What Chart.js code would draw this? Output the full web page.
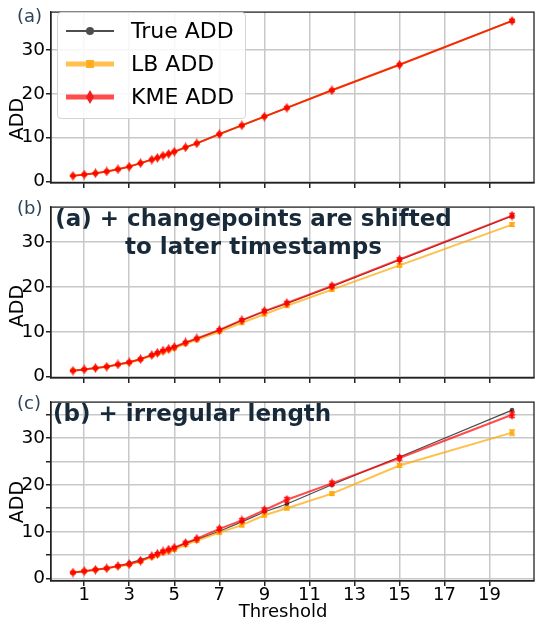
<!DOCTYPE html>
<html><head><meta charset="utf-8">
<script src="https://cdn.jsdelivr.net/npm/chart.js@4.4.0/dist/chart.umd.min.js"></script>
<style>
html,body{margin:0;padding:0;background:#fff;}
#wrap{position:relative;width:540px;height:621px;overflow:hidden;font-family:"DejaVu Sans",sans-serif;}
.pane{position:absolute;left:0;}
canvas{display:block;}
.plab{position:absolute;left:17px;font-size:18px;line-height:18px;color:#2d4458;}
.ann{position:absolute;font-weight:bold;font-size:23px;line-height:27.6px;color:#182a39;white-space:nowrap;}
.ylab{position:absolute;width:60px;height:20px;line-height:20px;text-align:center;font-size:19px;color:#000;transform:rotate(-90deg);}
#xlab{position:absolute;left:233px;width:100px;top:602px;font-size:18px;line-height:18px;text-align:center;color:#000;}
#legend{position:absolute;left:57px;top:12px;width:189px;height:107px;border:1px solid #d4d4d4;border-radius:4px;background:rgba(255,255,255,0.85);box-sizing:border-box;}
.lrow{position:absolute;left:0;height:30px;width:189px;}
.lrow svg{position:absolute;left:7px;top:3px;}
.lrow span{position:absolute;left:73px;top:2px;font-size:22px;line-height:26px;color:#000;white-space:nowrap;}
</style></head>
<body>
<div id="wrap">
  <div class="pane" style="top:0;height:195px"><canvas id="cA" width="540" height="195"></canvas></div>
  <div class="pane" style="top:195px;height:195px"><canvas id="cB" width="540" height="195"></canvas></div>
  <div class="pane" style="top:390px;height:231px"><canvas id="cC" width="540" height="231"></canvas></div>

  <div class="plab" style="top:7px">(a)</div>
  <div class="plab" style="top:199px">(b)</div>
  <div class="plab" style="top:394px">(c)</div>

  <div class="ylab" style="left:-14px;top:109px">ADD</div>
  <div class="ylab" style="left:-14px;top:296px">ADD</div>
  <div class="ylab" style="left:-14px;top:492px">ADD</div>
  <div id="xlab">Threshold</div>

  <div class="ann" style="left:0;width:507px;top:205px;text-align:center">(a) + changepoints are shifted<br>to later timestamps</div>
  <div class="ann" style="left:53px;top:400px">(b) + irregular length</div>

  <div id="legend">
    <div class="lrow" style="top:3px">
      <svg width="52" height="24"><line x1="1" y1="12" x2="49" y2="12" stroke="#4d4d4d" stroke-width="2"/><circle cx="25" cy="12" r="4" fill="#4d4d4d"/></svg>
      <span>True ADD</span></div>
    <div class="lrow" style="top:36px">
      <svg width="52" height="24"><line x1="1" y1="12" x2="49" y2="12" stroke="#ffc04d" stroke-width="5"/><rect x="21" y="8" width="8" height="8" fill="#ffb020"/></svg>
      <span>LB ADD</span></div>
    <div class="lrow" style="top:69px">
      <svg width="52" height="24"><line x1="1" y1="12" x2="49" y2="12" stroke="#ff4d4d" stroke-width="5"/><polygon points="25,5 29,12 25,19 21,12" fill="#f02020"/></svg>
      <span>KME ADD</span></div>
  </div>
</div>
<script>
// ---------- data ----------
const thresholds = [0.5,1,1.5,2,2.5,3,3.5,4,4.25,4.5,4.75,5,5.5,6,7,8,9,10,12,15,20];
const xTickValues = [1,3,5,7,9,11,13,15,17,19];
const yTickValues = [0,5,10,15,20,25,30,35];
const yLabelValues = [0,10,20,30];

// panel (a)
const trueA = [1.3,1.6,1.9,2.3,2.8,3.4,4.2,5.0,5.4,5.9,6.3,6.8,7.8,8.7,10.8,12.8,14.8,16.8,20.8,26.6,36.6];
const lbA   = [1.3,1.6,1.9,2.3,2.8,3.4,4.2,5.0,5.4,5.9,6.3,6.8,7.8,8.7,10.8,12.8,14.8,16.8,20.8,26.6,36.6];
const kmeA  = [1.3,1.6,1.9,2.3,2.8,3.4,4.2,5.0,5.4,5.9,6.3,6.8,7.8,8.7,10.8,12.8,14.8,16.8,20.8,26.6,36.6];
const lbErrA  = [0.1,0.1,0.1,0.1,0.1,0.1,0.1,0.1,0.1,0.1,0.1,0.1,0.1,0.1,0.15,0.15,0.15,0.2,0.2,0.2,0.3];
const kmeErrA = [0.1,0.1,0.1,0.1,0.1,0.1,0.1,0.1,0.1,0.1,0.1,0.1,0.1,0.1,0.15,0.15,0.15,0.2,0.2,0.2,0.3];

// panel (b)
const trueB = [1.3,1.6,1.9,2.2,2.7,3.2,3.9,4.8,5.3,5.7,6.1,6.5,7.5,8.4,10.3,12.5,14.5,16.3,20.1,26.0,35.8];
const lbB   = [1.3,1.6,1.9,2.2,2.7,3.1,3.8,4.7,5.1,5.5,5.9,6.3,7.3,8.2,10.0,12.0,13.9,15.8,19.4,24.8,33.9];
const kmeB  = [1.3,1.6,1.9,2.2,2.7,3.2,3.9,4.8,5.3,5.8,6.2,6.6,7.6,8.5,10.4,12.6,14.6,16.4,20.2,26.1,35.9];
const lbErrB  = [0.15,0.15,0.15,0.15,0.15,0.2,0.2,0.2,0.2,0.2,0.2,0.2,0.25,0.25,0.25,0.3,0.3,0.3,0.35,0.35,0.4];
const kmeErrB = [0.15,0.15,0.15,0.15,0.15,0.2,0.2,0.2,0.2,0.2,0.2,0.2,0.25,0.25,0.3,0.3,0.35,0.35,0.4,0.4,0.5];

// panel (c)
const trueC = [1.3,1.6,1.9,2.2,2.7,3.3,4.0,4.8,5.3,5.7,6.1,6.5,7.5,8.3,10.1,12.1,14.2,15.9,20.0,25.9,35.9];
const lbC   = [1.3,1.6,1.9,2.2,2.6,3.0,3.7,4.6,5.0,5.5,5.8,6.2,7.2,8.1,9.8,11.4,13.5,15.0,18.1,24.1,31.1];
const kmeC  = [1.3,1.6,1.9,2.2,2.7,3.1,3.8,4.8,5.3,5.8,6.2,6.6,7.6,8.5,10.6,12.4,14.6,16.8,20.3,25.7,34.9];
const lbErrC  = [0.2,0.2,0.2,0.2,0.2,0.2,0.25,0.25,0.25,0.25,0.25,0.25,0.3,0.3,0.3,0.35,0.35,0.35,0.35,0.4,0.6];
const kmeErrC = [0.2,0.2,0.2,0.2,0.2,0.2,0.25,0.25,0.25,0.25,0.25,0.25,0.3,0.3,0.35,0.4,0.45,0.5,0.45,0.5,0.6];

// ---------- helpers ----------
const xy = arr => arr.map((v,i)=>({x:thresholds[i], y:v}));
const FONT = '"DejaVu Sans", sans-serif';

function thinDiamond(){
  const c = document.createElement('canvas'); c.width = 7; c.height = 10;
  const g = c.getContext('2d');
  g.fillStyle = 'rgba(255,0,0,0.85)';
  g.beginPath(); g.moveTo(3.5,0); g.lineTo(6.5,5); g.lineTo(3.5,10); g.lineTo(0.5,5); g.closePath(); g.fill();
  return c;
}
const kmeMarker = thinDiamond();

const errorBarPlugin = {
  id:'errbars',
  afterDatasetDraw(chart, args){
    const ds = chart.data.datasets[args.index];
    if(!ds.errors) return;
    const ctx = chart.ctx, ys = chart.scales.y;
    ctx.save();
    ctx.strokeStyle = ds.borderColor; ctx.lineWidth = 1.4;
    args.meta.data.forEach((pt,i)=>{
      const v = ds.data[i].y, e = ds.errors[i];
      const y1 = ys.getPixelForValue(v-e), y2 = ys.getPixelForValue(v+e);
      ctx.beginPath();
      ctx.moveTo(pt.x,y1); ctx.lineTo(pt.x,y2);
      ctx.moveTo(pt.x-3,y1); ctx.lineTo(pt.x+3,y1);
      ctx.moveTo(pt.x-3,y2); ctx.lineTo(pt.x+3,y2);
      ctx.stroke();
    });
    ctx.restore();
  }
};
const framePlugin = {
  id:'frame',
  afterDraw(chart){
    const a = chart.chartArea, ctx = chart.ctx;
    ctx.save(); ctx.strokeStyle = '#222'; ctx.lineWidth = 1.3;
    ctx.strokeRect(a.left, a.top, a.right-a.left, a.bottom-a.top);
    ctx.restore();
  }
};

function makeChart(id, tData, lbData, kmeData, lbErr, kmeErr, yMin, yMax, padTop, bottomAxis){
  new Chart(document.getElementById(id), {
    type:'line',
    data:{datasets:[
      {label:'KME ADD', data:xy(kmeData), errors:kmeErr, order:0,
       borderColor:'rgba(255,0,0,0.7)', backgroundColor:'rgba(255,0,0,0.7)', borderWidth:2,
       pointStyle:kmeMarker, pointRadius:4, tension:0},
      {label:'LB ADD', data:xy(lbData), errors:lbErr, order:1,
       borderColor:'rgba(255,165,0,0.7)', backgroundColor:'rgba(255,165,0,0.8)', borderWidth:2,
       pointStyle:'rect', pointRadius:3.5, pointBorderWidth:0, tension:0},
      {label:'True ADD', data:xy(tData), order:2,
       borderColor:'rgba(0,0,0,0.7)', backgroundColor:'rgba(0,0,0,0.7)', borderWidth:1.2,
       pointStyle:'circle', pointRadius:2.3, pointBorderWidth:0, tension:0}
    ]},
    options:{
      responsive:false, animation:false, events:[],
      layout:{padding:{top:padTop, right:5, left:0, bottom:0}},
      plugins:{legend:{display:false}, tooltip:{enabled:false}},
      scales:{
        x:{type:'linear', min:-0.475, max:20.975,
           afterBuildTicks:s=>{ s.ticks = xTickValues.map(v=>({value:v})); },
           afterFit:s=>{ s.height = bottomAxis ? 40 : 5; },
           grid:{color:'#c8c8c8', lineWidth:1.5, tickColor:'#222', tickLength:5, drawTicks:true},
           border:{color:'#222', width:1.3},
           ticks:{display:bottomAxis, autoSkip:false, maxRotation:0, padding:0, color:'#000',
                  font:{family:FONT, size:18, lineHeight:1}}},
        y:{type:'linear', min:yMin, max:yMax,
           afterBuildTicks:s=>{ s.ticks = yTickValues.map(v=>({value:v})); },
           afterFit:s=>{ s.width = 51; },
           grid:{color:'#c8c8c8', lineWidth:1.5, tickColor:'#222', tickLength:5, drawTicks:true},
           border:{color:'#222', width:1.3},
           ticks:{padding:1, color:'#000', font:{family:FONT, size:18.5},
                  callback:v=> yLabelValues.includes(v) ? String(v) : ''}}
      }
    },
    plugins:[errorBarPlugin, framePlugin]
  });
}

makeChart('cA', trueA, lbA, kmeA, lbErrA, kmeErrA, -0.3, 38.6, 5, false);
makeChart('cB', trueB, lbB, kmeB, lbErrB, kmeErrB, -0.3, 37.8, 5.7, false);
makeChart('cC', trueC, lbC, kmeC, lbErrC, kmeErrC, -0.5, 37.6, 5, true);
</script>
</body></html>
